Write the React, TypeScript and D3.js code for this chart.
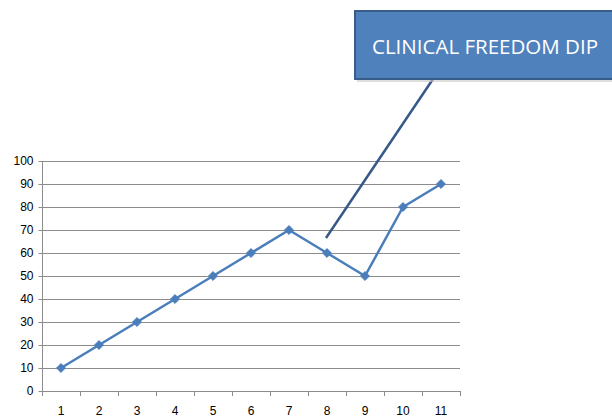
import { useEffect, useRef } from "react"
import * as d3 from "d3"

const categories = ["1", "2", "3", "4", "5", "6", "7", "8", "9", "10", "11"]
const values = [10, 20, 30, 40, 50, 60, 70, 60, 50, 80, 90]
const yTicks = [0, 10, 20, 30, 40, 50, 60, 70, 80, 90, 100]
const calloutText = "CLINICAL FREEDOM DIP"

export default function App() {
  const svgRef = useRef<SVGSVGElement>(null)

  useEffect(() => {
    if (!svgRef.current) return
    const root = d3.select(svgRef.current)
    root.selectAll("*").remove()

    const width = 612
    const height = 417
    const margin = { top: 161, right: 152, bottom: 26, left: 42 }
    const innerW = width - margin.left - margin.right
    const innerH = height - margin.top - margin.bottom

    root.attr("width", width).attr("height", height)
    root.append("rect").attr("width", width).attr("height", height).attr("fill", "#fff")

    const g = root.append("g").attr("transform", `translate(${margin.left},${margin.top})`)

    const x = d3.scaleBand().domain(categories).range([0, innerW]).padding(0)
    const y = d3.scaleLinear().domain([0, 100]).range([innerH, 0])

    // Horizontal grid lines
    g.append("g")
      .selectAll("line")
      .data(yTicks.filter((t) => t > 0))
      .enter()
      .append("line")
      .attr("x1", 0)
      .attr("x2", innerW)
      .attr("y1", (d) => y(d) + 0.5)
      .attr("y2", (d) => y(d) + 0.5)
      .attr("stroke", "#8c8c8c")
      .attr("stroke-width", 1)

    // Y axis
    const yAxis = g
      .append("g")
      .attr("transform", "translate(0.5,0)")
      .call(d3.axisLeft(y).tickValues(yTicks).tickSize(4).tickPadding(5))
    yAxis.select(".domain").attr("stroke", "#8c8c8c").attr("d", `M0,${innerH}V0`)
    yAxis.selectAll(".tick line").attr("stroke", "#8c8c8c")
    yAxis
      .selectAll("text")
      .attr("font-family", "Liberation Sans, Arial, sans-serif")
      .attr("font-size", "12px")
      .attr("fill", "#000")

    // X axis
    const xAxis = g
      .append("g")
      .attr("transform", `translate(0,${innerH + 0.5})`)
      .call(d3.axisBottom(x).tickSize(0).tickPadding(15))
    xAxis.select(".domain").attr("stroke", "#8c8c8c").attr("d", `M0,0H${innerW}`)
    xAxis
      .selectAll("text")
      .attr("font-family", "Liberation Sans, Arial, sans-serif")
      .attr("font-size", "12px")
      .attr("fill", "#000")

    // X boundary tick marks
    g.append("g")
      .selectAll("line")
      .data(d3.range(categories.length + 1))
      .enter()
      .append("line")
      .attr("x1", (i) => Math.round(i * x.step()) + 0.5)
      .attr("x2", (i) => Math.round(i * x.step()) + 0.5)
      .attr("y1", innerH)
      .attr("y2", innerH + 5)
      .attr("stroke", "#8c8c8c")

    const cx = (d: string) => (x(d) || 0) + x.bandwidth() / 2

    // Series line
    const line = d3
      .line<number>()
      .x((_, i) => cx(categories[i]))
      .y((d) => y(d))
    g.append("path")
      .datum(values)
      .attr("d", line)
      .attr("fill", "none")
      .attr("stroke", "#4a7ebb")
      .attr("stroke-width", 2.5)
      .attr("stroke-linejoin", "round")

    // Diamond markers
    g.selectAll(".marker")
      .data(values)
      .enter()
      .append("path")
      .attr("class", "marker")
      .attr("d", d3.symbol(d3.symbolDiamond2, 50)() || "")
      .attr("transform", (d, i) => `translate(${cx(categories[i])},${y(d)})`)
      .attr("fill", "#4a7ebb")
      .attr("stroke", "#4a7ebb")
      .attr("stroke-width", 1)

    // Callout pointer
    root
      .append("line")
      .attr("x1", 433)
      .attr("y1", 79)
      .attr("x2", 326)
      .attr("y2", 238)
      .attr("stroke", "#36598a")
      .attr("stroke-width", 2.5)

    // Callout box with shadow
    root
      .append("rect")
      .attr("x", 357)
      .attr("y", 13)
      .attr("width", 270)
      .attr("height", 69)
      .attr("fill", "#c8c8c8")
      .attr("opacity", 0.6)
    root
      .append("rect")
      .attr("x", 355)
      .attr("y", 11)
      .attr("width", 270)
      .attr("height", 68)
      .attr("fill", "#4f81bd")
      .attr("stroke", "#385d8a")
      .attr("stroke-width", 2)
    root
      .append("text")
      .attr("x", 485)
      .attr("y", 54)
      .attr("text-anchor", "middle")
      .attr("font-family", "Open Sans, Liberation Sans, sans-serif")
      .attr("font-size", "19.5px")
      .attr("textLength", 226)
      .attr("lengthAdjust", "spacingAndGlyphs")
      .attr("fill", "#fff")
      .text(calloutText)
  }, [])

  return (
    <div style={{ position: "absolute", left: 0, top: 0, width: 612, height: 417, overflow: "hidden" }}>
      <svg ref={svgRef} style={{ display: "block" }}></svg>
    </div>
  )
}
